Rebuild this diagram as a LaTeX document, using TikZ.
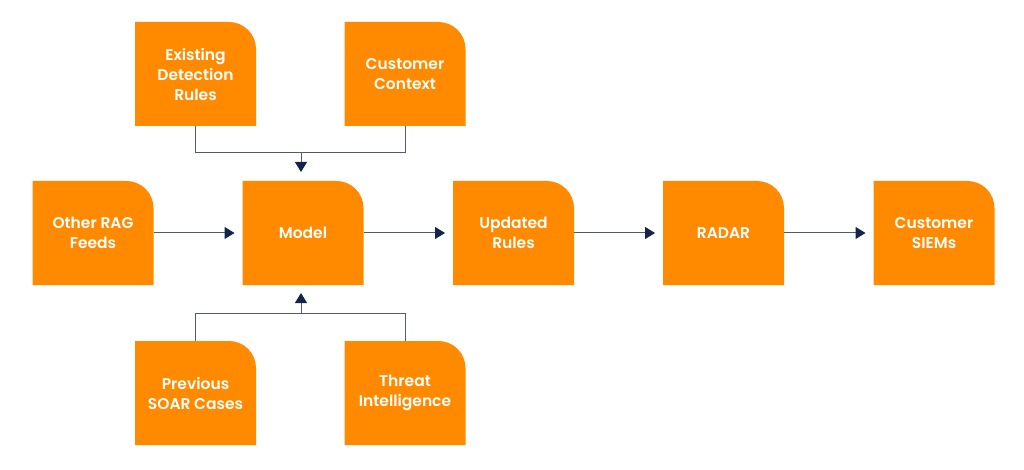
\documentclass[tikz,border=0pt]{standalone}
\usepackage{fontspec}
\setmainfont{Poppins}[BoldFont={Poppins SemiBold}]
\usetikzlibrary{arrows.meta}
\definecolor{boxorange}{HTML}{FF8A00}
\definecolor{linegray}{HTML}{4E5A78}
\definecolor{tipnavy}{HTML}{13254A}
\tikzset{
  box/.style={minimum width=121pt, minimum height=104pt, inner sep=0pt, outer sep=0pt,
    align=center, text=white, font=\bfseries\fontsize{15.5}{20}\selectfont,
    path picture={\fill[boxorange] (path picture bounding box.south west) -- (path picture bounding box.north west)
      -- ([xshift=-27pt]path picture bounding box.north east) arc[start angle=90,end angle=0,radius=27pt]
      -- (path picture bounding box.south east) -- cycle;}},
  conn/.style={draw=linegray, line width=1pt},
  arr/.style={conn, -{Triangle[length=10pt,width=12pt,fill=tipnavy,color=tipnavy]}, shorten >=8pt}
}
\begin{document}
\begin{tikzpicture}[x=1pt,y=-1pt]
\useasboundingbox (0,0) rectangle (1024,470);
\node[box] (ex) at (195.5,74) {Existing\\Detection\\Rules};
\node[box] (cc) at (405,74) {Customer\\Context};
\node[box] (rag) at (93,233) {Other RAG\\Feeds};
\node[box] (model) at (303,233) {Model};
\node[box] (upd) at (513.5,233) {Updated\\Rules};
\node[box] (radar) at (723.5,233) {RADAR};
\node[box] (siem) at (934,233) {Customer\\SIEMs};
\node[box] (soar) at (195.5,393) {Previous\\SOAR Cases};
\node[box] (ti) at (405,393) {Threat\\Intelligence};
\coordinate (tj) at (301,153);
\coordinate (bj) at (301,313);
\draw[conn] (ex.south) -- (ex.south |- tj) -- (cc.south |- tj) -- (cc.south);
\draw[arr, shorten >=9pt] (tj) -- (tj |- model.north);
\draw[conn] (soar.north) -- (soar.north |- bj) -- (ti.north |- bj) -- (ti.north);
\draw[arr] (bj) -- (bj |- model.south);
\draw[arr] (rag.east) -- (model.west);
\draw[arr] (model.east) -- (upd.west);
\draw[arr] (upd.east) -- (radar.west);
\draw[arr] (radar.east) -- (siem.west);
\end{tikzpicture}
\end{document}
